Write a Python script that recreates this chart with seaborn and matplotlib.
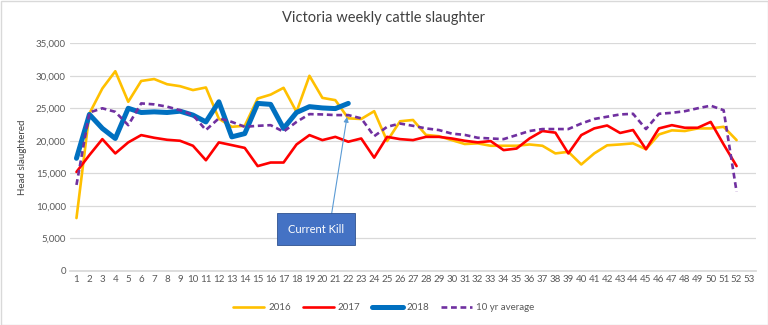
import matplotlib
matplotlib.use("Agg")
import matplotlib.pyplot as plt
import seaborn as sns
import numpy as np
import pandas as pd
from matplotlib.patches import Rectangle

weeks = list(range(1, 54))

y2016 = [8100, 24200, 28050, 30700, 26000, 29200, 29500, 28700, 28400, 27800,
         28200, 23400, 22150, 22300, 26500, 27100, 28150, 24450, 30000, 26600,
         26250, 23450, 23350, 24550, 19950, 23000, 23200, 20900, 20700, 20100,
         19500, 19600, 19230, 19230, 19230, 19430, 19230, 18050, 18300, 16350,
         18050, 19300, 19430, 19600, 18700, 20970, 21600, 21500, 21900, 21900,
         22150, 20100]
y2017 = [15200, 17800, 20250, 18050, 19750, 20870, 20460, 20150, 20000, 19230,
         17000, 19750, 19330, 18900, 16100, 16650, 16650, 19430, 20870, 20100,
         20600, 19850, 20350, 17400, 20600, 20250, 20100, 20600, 20600, 20350,
         20000, 19750, 19950, 18560, 18800, 20350, 21500, 21250, 18050, 20870,
         21900, 22350, 21200, 21650, 18700, 21900, 22400, 22000, 22000, 22900,
         19430, 16100]
y2018 = [17300, 24050, 21900, 20350, 25000, 24350, 24450, 24350, 24550, 23950,
         22900, 26000, 20600, 21100, 25750, 25600, 21900, 24350, 25250, 25050,
         24950, 25750]
y10yr = [13200, 24350, 25000, 24450, 22400, 25750, 25600, 25250, 24700, 23950,
         21650, 23450, 22900, 22150, 22300, 22400, 21400, 22900, 24100, 24050,
         23950, 23950, 23450, 20700, 22150, 22650, 22300, 21900, 21650, 21100,
         20900, 20460, 20350, 20250, 20870, 21500, 21800, 21800, 21800, 22650,
         23350, 23700, 24050, 24150, 21800, 24150, 24300, 24550, 25000, 25400,
         24700, 12150]

title = "Victoria weekly cattle slaughter"
ylabel = "Head slaughtered"
annotation = "Current Kill"
yticks = list(range(0, 35001, 5000))

sns.set_theme(style="white")
plt.rcParams['font.family'] = ['Lato', 'DejaVu Sans']

fig = plt.figure(figsize=(7.68, 3.25), dpi=100)
ax = fig.add_axes([70/768, 1-270.7/325, (756-70)/768, (270.7-43.3)/325])

series = [
    ("2016", y2016, "#FFC000", 1.9, "-"),
    ("2017", y2017, "#FF0000", 1.9, "-"),
    ("2018", y2018, "#0070C0", 3.6, "-"),
    ("10 yr average", y10yr, "#7030A0", 1.9, (0, (2.2, 1.4))),
]
for name, vals, col, lw, ls in series:
    df = pd.DataFrame({"week": weeks[:len(vals)], "value": vals})
    sns.lineplot(data=df, x="week", y="value", ax=ax, color=col, linewidth=lw,
                 linestyle=ls, label=name, legend=False)

ax.set_xlim(0.5, 53.5)
ax.set_ylim(0, 35000)
ax.set_xticks(weeks)
ax.set_xticklabels([str(w) for w in weeks])
ax.set_yticks(yticks)
ax.set_yticklabels([f"{v:,}" for v in yticks])
ax.tick_params(axis="both", labelsize=7, colors="#595959", length=0, pad=3)
ax.grid(axis="y", color="#D9D9D9", linewidth=0.9)
ax.set_axisbelow(True)
for s in ["top", "right", "left"]:
    ax.spines[s].set_visible(False)
ax.spines["bottom"].set_color("#D9D9D9")
ax.set_xlabel("")
ax.set_ylabel(ylabel, fontsize=7, color="#404040", labelpad=4)
ax.yaxis.set_label_coords(-0.062, 0.5)

fig.text(0.5, 1-18/325, title, ha="center", va="center", fontsize=10.5, color="#404040")

# annotation arrow and box
ax.annotate("", xy=(21.9, 23650), xytext=(20.7, 8600),
            arrowprops=dict(arrowstyle="-|>", color="#5B9BD5", lw=0.8,
                            mutation_scale=7, shrinkA=0, shrinkB=0))
ax.text(19.5, 6400, annotation, ha="center", va="center", fontsize=8, color="white",
        bbox=dict(boxstyle="square,pad=0.95", fc="#4472C4", ec="#2F528F", lw=0.6),
        zorder=5)

handles, labels = ax.get_legend_handles_labels()
fig.legend(handles, labels, loc="center", bbox_to_anchor=(0.5, 1-308/325), ncol=4,
           frameon=False, fontsize=7, handlelength=3.2, columnspacing=1.2,
           handletextpad=0.4, labelcolor="#595959")

fig.patches.append(Rectangle((0.5/768, 0.5/325), 1-1/768, 1-1/325, transform=fig.transFigure,
                             fill=False, ec="#D9D9D9", lw=1))

fig.savefig("out.png", dpi=100)
